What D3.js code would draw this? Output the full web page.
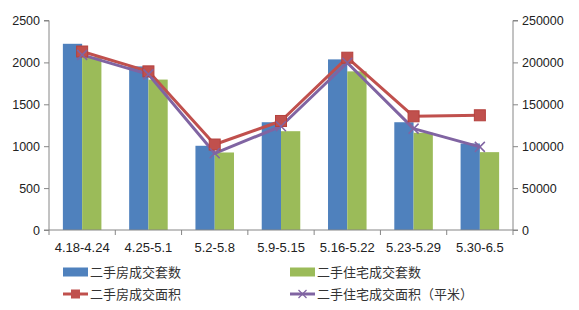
<!DOCTYPE html>
<html><head><meta charset="utf-8">
<script src="https://cdn.jsdelivr.net/npm/d3@7"></script>
<style>body{margin:0;background:#fff;}svg{display:block;}</style>
</head><body>
<svg id="c" width="579" height="310"></svg>
<script>
const categories = ["4.18-4.24","4.25-5.1","5.2-5.8","5.9-5.15","5.16-5.22","5.23-5.29","5.30-6.5"];
const houseCount = [2222, 1952, 1005, 1286, 2036, 1286, 1032];
const residCount = [2063, 1795, 925, 1179, 1893, 1160, 929];
const houseArea = [213000, 189300, 102000, 130100, 205600, 135700, 136900];
const residArea = [209000, 185700, 91500, 123800, 199600, 121000, 99200];
const leftTicks = [0, 500, 1000, 1500, 2000, 2500];
const rightTicks = [0, 50000, 100000, 150000, 200000, 250000];
const seriesNames = ["二手房成交套数","二手住宅成交套数","二手房成交面积","二手住宅成交面积（平米）"];

const svg = d3.select("#c");
const L = 49, R = 513, T = 20.5, B = 230;
const font = "'Liberation Sans', Arial, sans-serif";
const axisColor = "#868686";

const x = d3.scaleBand().domain(categories).range([L, R]).paddingInner(0).paddingOuter(0);
const yL = d3.scaleLinear().domain([0, 2500]).range([B, T]);
const yR = d3.scaleLinear().domain([0, 250000]).range([B, T]);
const inner = d3.scaleBand().domain([0,1]).range([0, x.bandwidth()]).paddingInner(0).paddingOuter(0.72);

// bars
const bars = [houseCount, residCount];
const barColors = ["#4F81BD", "#9BBB59"];
bars.forEach((arr, si) => {
  svg.append("g").selectAll("rect").data(arr).join("rect")
    .attr("x", (d,i) => x(categories[i]) + inner(si))
    .attr("y", d => yL(d))
    .attr("width", inner.bandwidth())
    .attr("height", d => B - yL(d))
    .attr("fill", barColors[si]);
});

// axes
const gl = svg.append("g").attr("transform", `translate(${L},0)`)
  .call(d3.axisLeft(yL).tickValues(leftTicks).tickSize(5).tickPadding(4).tickFormat(d3.format("d")));
const gr = svg.append("g").attr("transform", `translate(${R},0)`)
  .call(d3.axisRight(yR).tickValues(rightTicks).tickSize(5).tickPadding(4).tickFormat(d3.format("d")));
const gx = svg.append("g").attr("transform", `translate(0,${B})`)
  .call(d3.axisBottom(x).tickSize(0).tickPadding(13));
// category boundary ticks
svg.append("g").selectAll("line").data(d3.range(categories.length + 1)).join("line")
  .attr("x1", i => L + i * x.bandwidth()).attr("x2", i => L + i * x.bandwidth())
  .attr("y1", B).attr("y2", B + 5).attr("stroke", axisColor);
[gl, gr, gx].forEach(g => {
  g.select(".domain").attr("stroke", axisColor);
  g.selectAll(".tick line").attr("stroke", axisColor);
  g.selectAll("text").attr("font-family", font).attr("font-size", 12.5).attr("fill", "#222");
});
gx.selectAll("text").attr("font-size", 13);
gl.select(".domain").attr("d", `M-5,${T}H0V${B}H-5`);
gr.select(".domain").attr("d", `M5,${T}H0V${B}H5`);
gx.select(".domain").attr("d", `M${L},0H${R}`);

// lines
const cx = (i) => x(categories[i]) + x.bandwidth() / 2;
const lineR = d3.line().x((d,i) => cx(i)).y(d => yR(d));
svg.append("path").datum(houseArea).attr("d", lineR).attr("fill", "none")
  .attr("stroke", "#C0504D").attr("stroke-width", 3).attr("stroke-linejoin", "round");
svg.append("path").datum(residArea).attr("d", lineR).attr("fill", "none")
  .attr("stroke", "#8064A2").attr("stroke-width", 3).attr("stroke-linejoin", "round");
svg.append("g").selectAll("rect").data(houseArea).join("rect")
  .attr("x", (d,i) => cx(i) - 5.5).attr("y", d => yR(d) - 5.5)
  .attr("width", 11).attr("height", 11)
  .attr("fill", "#C0504D").attr("stroke", "#B5413D").attr("stroke-width", 1);
svg.append("g").selectAll("path").data(residArea).join("path")
  .attr("d", (d,i) => { const X = cx(i), Y = yR(d), s = 5; return `M${X-s},${Y-s}L${X+s},${Y+s}M${X-s},${Y+s}L${X+s},${Y-s}`; })
  .attr("stroke", "#8064A2").attr("stroke-width", 1.5);

// legend
const leg = svg.append("g");
const legItems = [
  {x: 63, y: 272, type: "bar", color: "#4F81BD", name: seriesNames[0]},
  {x: 290, y: 272, type: "bar", color: "#9BBB59", name: seriesNames[1]},
  {x: 63, y: 294, type: "sq", color: "#C0504D", name: seriesNames[2]},
  {x: 290, y: 294, type: "x", color: "#8064A2", name: seriesNames[3]}
];
legItems.forEach(it => {
  if (it.type === "bar") {
    leg.append("rect").attr("x", it.x).attr("y", it.y - 4.5).attr("width", 25).attr("height", 9).attr("fill", it.color);
  } else {
    leg.append("line").attr("x1", it.x).attr("x2", it.x + 25).attr("y1", it.y).attr("y2", it.y)
      .attr("stroke", it.color).attr("stroke-width", 3);
    if (it.type === "sq") {
      leg.append("rect").attr("x", it.x + 8).attr("y", it.y - 4.5).attr("width", 9).attr("height", 9).attr("fill", it.color);
    } else {
      const X = it.x + 12.5, Y = it.y, s = 4;
      leg.append("path").attr("d", `M${X-s},${Y-s}L${X+s},${Y+s}M${X-s},${Y+s}L${X+s},${Y-s}`)
        .attr("stroke", it.color).attr("stroke-width", 1.2);
    }
  }
  leg.append("text").attr("x", it.x + 27).attr("y", it.y).attr("dy", "0.36em")
    .attr("font-family", "'Noto Sans CJK SC', sans-serif").attr("font-size", 13).attr("fill", "#333")
    .text(it.name);
});
</script>
</body></html>
